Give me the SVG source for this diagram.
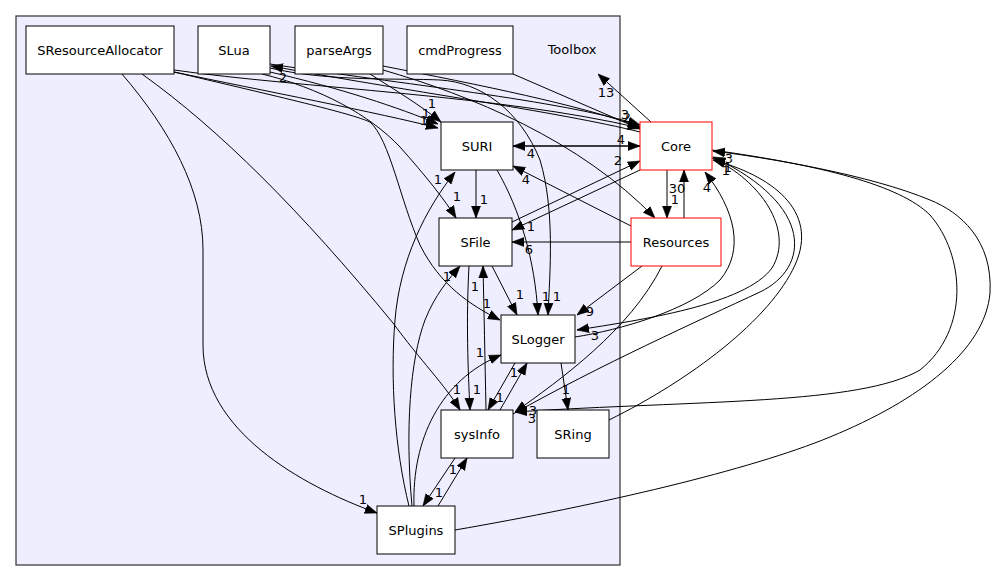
<svg xmlns="http://www.w3.org/2000/svg" width="995" height="581" viewBox="0 0 995 581">
<style>
text{font-family:"DejaVu Sans","Liberation Sans",sans-serif;font-size:13px;fill:#000}
.n text{text-anchor:middle}
.n rect{fill:#fff;stroke:#000;stroke-width:1}
.n.red rect{stroke:#ff0000}
.e path{fill:none;stroke:#000;stroke-width:1;marker-end:url(#ah)}
.l text{text-anchor:middle}
</style>
<defs>
<marker id="ah" viewBox="0 0 12 10" refX="12" refY="5" markerWidth="12" markerHeight="10" orient="auto" markerUnits="userSpaceOnUse"><path d="M0,0.5 L12,5 L0,9.5 z" fill="#000" stroke="#000" stroke-width="0.6"/></marker>
</defs>
<rect width="995" height="581" fill="#fff"/>
<g id="cluster-Toolbox">
<rect x="16" y="16" width="604" height="549" fill="#eeeeff" stroke="#404040" stroke-width="1.3"/>
<text x="572" y="54" text-anchor="middle">Toolbox</text>
</g>
<g id="connectors" class="e">
<path d="M174,72 C260,90 380,113 438,128"/>
<path d="M174,72 C280,97 350,113 370,122 C390,140 400,200 420,245 C440,285 470,305 500,320"/>
<path d="M122,74 C170,130 203,190 203,250 L203,345 C203,430 300,485 377,513"/>
<path d="M142,74 C220,130 300,210 393,323 C420,360 445,385 460,410"/>
<path d="M174,70 C300,88 500,95 640,128"/>
<path d="M383,70 C470,95 580,140 655,218"/>
<path d="M270,72 C340,88 400,108 438,124"/>
<path d="M370,74 C395,90 420,105 441,122"/>
<path d="M262,74 C320,88 370,115 400,147 C425,175 445,200 456,218"/>
<path d="M270,68 C330,82 400,78 440,80 C480,82 520,110 540,160 C555,210 550,270 548,315"/>
<path d="M270,64 C400,84 560,100 640,125"/>
<path d="M640,132 C560,112 400,90 271,66"/>
<path d="M383,66 C480,85 580,105 640,127"/>
<path d="M513,74 L640,129"/>
<path d="M513,146 L640,146"/>
<path d="M640,146 L513,146"/>
<path d="M512,222 L640,161"/>
<path d="M640,170 L512,230"/>
<path d="M631,226 L513,166"/>
<path d="M631,242 L512,242"/>
<path d="M667,170 L667,218"/>
<path d="M684,218 L684,170"/>
<path d="M651,122 L598,74"/>
<path d="M642,266 L577,315"/>
<path d="M662,266 C630,330 560,380 515,412"/>
<path d="M476,170 L476,218"/>
<path d="M497,170 C520,210 535,260 538,315"/>
<path d="M492,266 L517,315"/>
<path d="M469,266 C466,320 468,370 470,410"/>
<path d="M486,410 C485,360 484,310 483,266"/>
<path d="M515,363 L488,410"/>
<path d="M500,410 L527,363"/>
<path d="M561,363 L568,410"/>
<path d="M455,458 L423,506"/>
<path d="M438,506 L467,458"/>
<path d="M409,506 C395,450 390,380 395,320 C400,260 425,210 455,172"/>
<path d="M412,506 C405,430 410,360 425,320 C435,295 448,280 460,266"/>
<path d="M414,506 C412,440 440,380 501,355"/>
<path d="M455,530 C600,505 750,470 830,437 C920,400 985,350 990,293 C993,240 960,212 930,200 C870,175 770,158 713,151"/>
<path d="M712,150 C820,165 900,185 930,215 C965,255 970,330 920,370 C860,405 700,400 515,412"/>
<path d="M513,414 C600,365 700,320 760,292 C810,268 815,205 713,157"/>
<path d="M609,420 C690,380 770,320 795,265 C820,210 770,175 713,160"/>
<path d="M575,337 C620,330 690,310 720,280 C745,250 735,210 705,172"/>
<path d="M712,158 C760,180 795,230 772,268 C745,305 640,320 577,330"/>
</g>
<g id="labels" class="l">
<text x="424" y="125">1</text>
<text x="426" y="118">1</text>
<text x="432" y="108">1</text>
<text x="487" y="308">1</text>
<text x="363" y="504">1</text>
<text x="457" y="394">1</text>
<text x="625" y="119">3</text>
<text x="627" y="122">2</text>
<text x="647" y="232">6</text>
<text x="457" y="201">1</text>
<text x="557" y="301">1</text>
<text x="283" y="82">2</text>
<text x="621" y="144">4</text>
<text x="531" y="158">4</text>
<text x="618" y="165">2</text>
<text x="531" y="231">1</text>
<text x="526" y="184">4</text>
<text x="529" y="254">6</text>
<text x="677" y="193">30</text>
<text x="675" y="204">1</text>
<text x="606" y="97">13</text>
<text x="590" y="316">9</text>
<text x="484" y="204">1</text>
<text x="546" y="301">1</text>
<text x="520" y="299">1</text>
<text x="477" y="394">1</text>
<text x="475" y="291">1</text>
<text x="500" y="402">1</text>
<text x="514" y="377">1</text>
<text x="566" y="394">1</text>
<text x="439" y="497">1</text>
<text x="453" y="474">1</text>
<text x="438" y="184">1</text>
<text x="447" y="281">1</text>
<text x="480" y="357">1</text>
<text x="729" y="163">3</text>
<text x="726" y="175">1</text>
<text x="728" y="172">1</text>
<text x="533" y="415">3</text>
<text x="532" y="423">3</text>
<text x="707" y="192">4</text>
<text x="595" y="340">3</text>
</g>
<g id="node-SResourceAllocator" class="n"><rect x="26" y="26" width="148" height="48"/><text x="100" y="54.5">SResourceAllocator</text></g>
<g id="node-SLua" class="n"><rect x="198" y="26" width="72" height="48"/><text x="234" y="54.5">SLua</text></g>
<g id="node-parseArgs" class="n"><rect x="295" y="26" width="88" height="48"/><text x="339" y="54.5">parseArgs</text></g>
<g id="node-cmdProgress" class="n"><rect x="407" y="26" width="106" height="48"/><text x="460" y="54.5">cmdProgress</text></g>
<g id="node-SURI" class="n"><rect x="441" y="122" width="72" height="48"/><text x="477" y="150.5">SURI</text></g>
<g id="node-Core" class="n red"><rect x="640" y="122" width="72" height="48"/><text x="676" y="150.5">Core</text></g>
<g id="node-SFile" class="n"><rect x="439" y="218" width="73" height="48"/><text x="475.5" y="246.5">SFile</text></g>
<g id="node-Resources" class="n red"><rect x="631" y="218" width="90" height="48"/><text x="676" y="246.5">Resources</text></g>
<g id="node-SLogger" class="n"><rect x="501" y="315" width="74" height="48"/><text x="538" y="343.5">SLogger</text></g>
<g id="node-sysInfo" class="n"><rect x="441" y="410" width="72" height="48"/><text x="477" y="438.5">sysInfo</text></g>
<g id="node-SRing" class="n"><rect x="537" y="410" width="72" height="48"/><text x="573" y="438.5">SRing</text></g>
<g id="node-SPlugins" class="n"><rect x="377" y="506" width="78" height="48"/><text x="416" y="534.5">SPlugins</text></g>
</svg>
